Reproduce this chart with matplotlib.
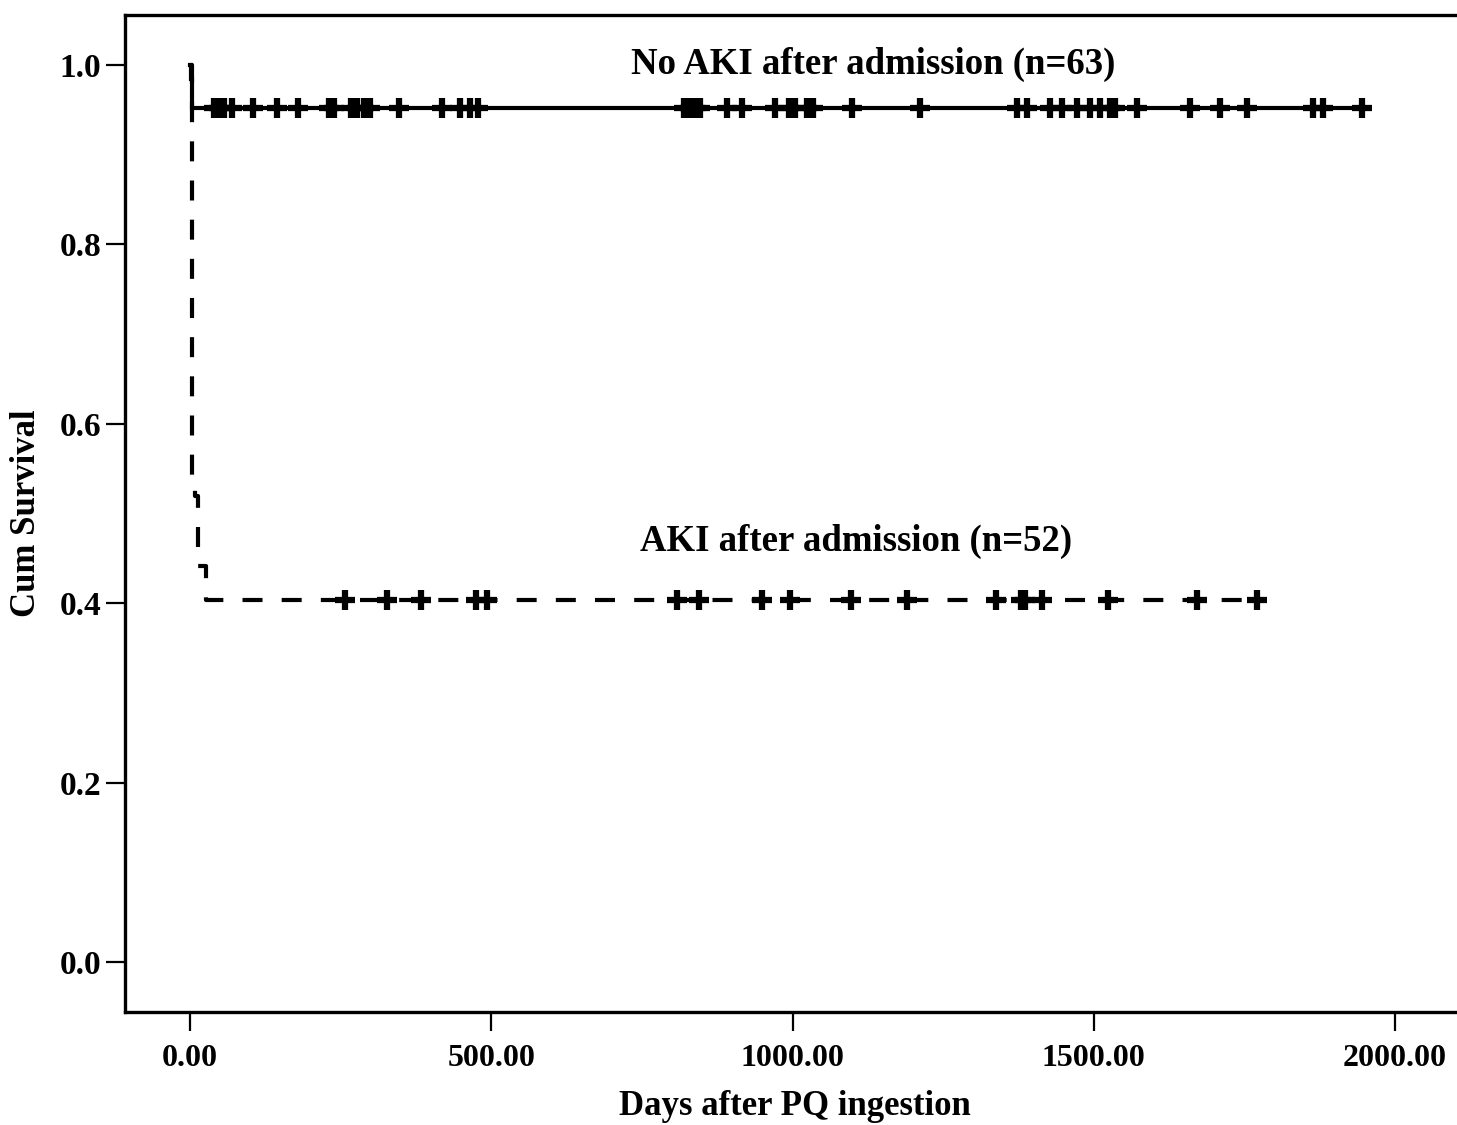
import matplotlib
matplotlib.use("Agg")
import matplotlib.pyplot as plt
import numpy as np

plt.rcParams["font.family"] = ["Liberation Serif", "DejaVu Serif"]
plt.rcParams["font.weight"] = "bold"

# Kaplan-Meier steps (time in days, cumulative survival).
no_aki_times = [0, 2, 3, 4]
no_aki_surv = [1.0, 0.984, 0.968, 0.952]
no_aki_censored = [40, 48, 56, 70, 104, 144, 179, 231, 239, 267, 277, 289, 299,
                   347, 418, 448, 465, 478, 820, 830, 840, 846, 891, 916, 971,
                   994, 1004, 1024, 1034, 1099, 1211, 1372, 1389, 1427, 1447,
                   1472, 1494, 1510, 1527, 1535, 1572, 1660, 1709, 1754, 1864,
                   1880, 1945]

aki_times = [0, 4, 8, 13, 27]
aki_surv = [1.0, 0.538, 0.519, 0.442, 0.404]
aki_censored = [257, 327, 383, 475, 493, 808, 845, 949, 996, 1097, 1190, 1338,
                1379, 1386, 1414, 1523, 1671, 1771]

labels = ["No AKI after admission (n=63)", "AKI after admission (n=52)"]


def km_curve(times, surv, censored):
    t = list(times) + [max(censored)]
    s = list(surv) + [surv[-1]]
    cy = [surv[-1]] * len(censored)
    return t, s, censored, cy


fig = plt.figure(figsize=(14.57, 11.25), dpi=100)
ax = fig.add_axes([0.0858, 0.1004, 0.9197, 0.8863])

# No AKI group: solid line.
t, s, cx, cy = km_curve(no_aki_times, no_aki_surv, no_aki_censored)
ax.step(t, s, where="post", color="black", lw=3.0, solid_joinstyle="miter")
ax.plot(cx, cy, "+", color="black", ms=15, mew=4.5)

# AKI group: dashed line.
t, s, cx, cy = km_curve(aki_times, aki_surv, aki_censored)
ax.step(t, s, where="post", color="black", lw=3.0, dashes=(4.8, 4.6))
ax.plot(cx, cy, "+", color="black", ms=15, mew=4.5)

ax.text(1133, 1.001, labels[0], ha="center", va="center", fontsize=26.5,
        fontweight="bold")
ax.text(1105, 0.469, labels[1], ha="center", va="center", fontsize=26.5,
        fontweight="bold")

ax.set_xlim(-108, 2116)
ax.set_ylim(-0.0558, 1.0558)
ax.set_xticks([0, 500, 1000, 1500, 2000])
ax.set_xticklabels([f"{v:.2f}" for v in [0, 500, 1000, 1500, 2000]])
ax.set_yticks([0.0, 0.2, 0.4, 0.6, 0.8, 1.0])
ax.set_yticklabels([f"{v:.1f}" for v in [0.0, 0.2, 0.4, 0.6, 0.8, 1.0]])
ax.tick_params(direction="out", length=14, width=1.6)
ax.tick_params(axis="x", labelsize=23, pad=9)
ax.tick_params(axis="y", labelsize=24, pad=3)
for sp in ax.spines.values():
    sp.set_linewidth(2.4)

ax.set_xlabel("Days after PQ ingestion", fontsize=25, fontweight="bold",
              labelpad=12)
ax.set_ylabel("Cum Survival", fontsize=25, fontweight="bold", labelpad=12)

fig.savefig("out.png", dpi=100)
